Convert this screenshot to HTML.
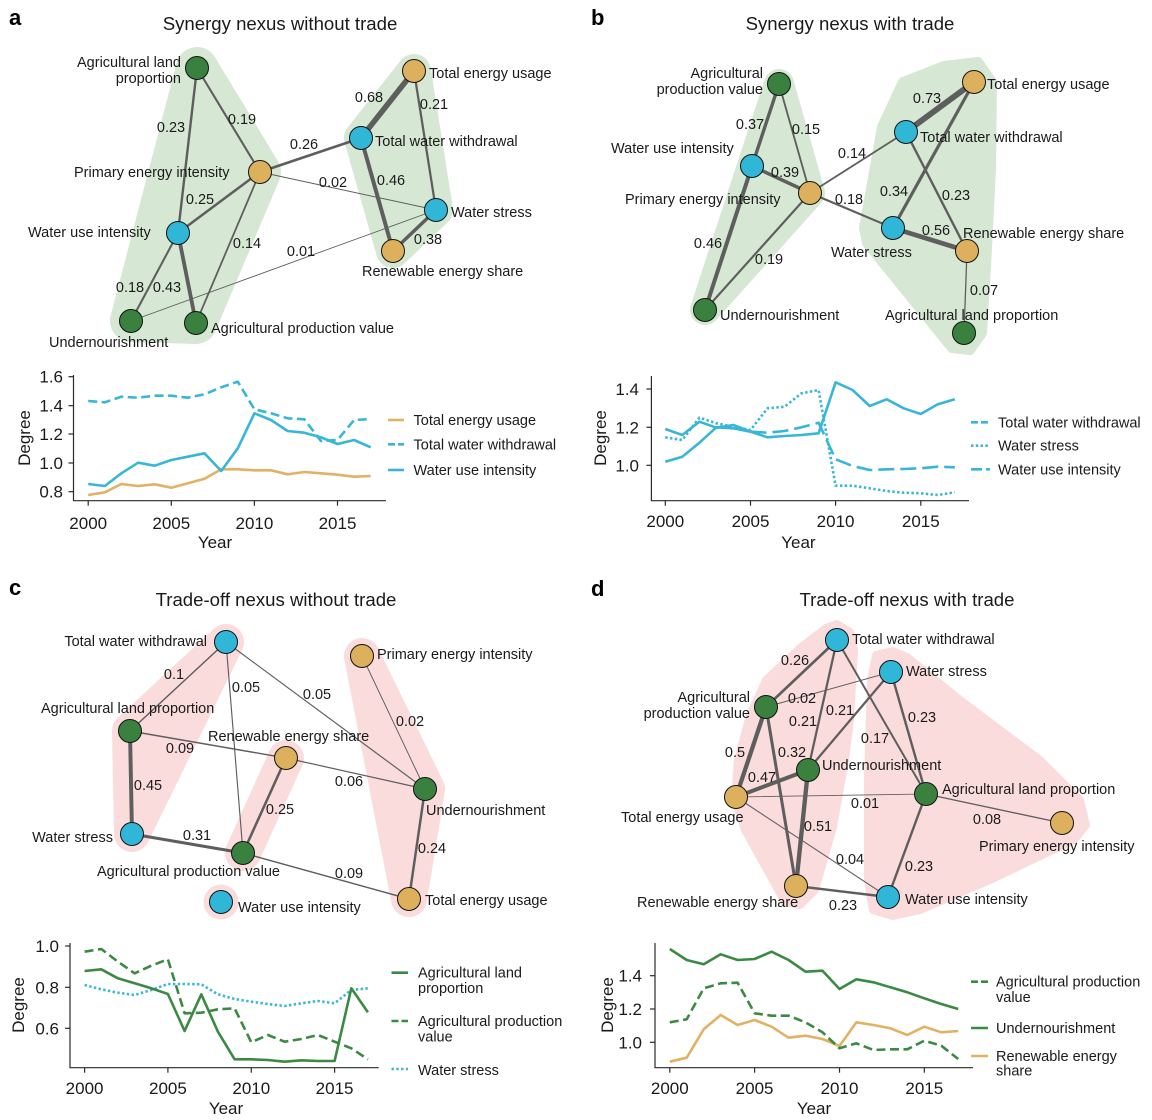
<!DOCTYPE html>
<html><head><meta charset="utf-8"><style>
html,body{margin:0;padding:0;background:#fff;}
svg{display:block;font-family:"Liberation Sans",Arial,sans-serif;}
.nl{font-size:14.5px;fill:#1a1a1a;}
.el{font-size:14.5px;fill:#1a1a1a;text-anchor:middle;}
.tt{font-size:18.6px;fill:#1a1a1a;text-anchor:middle;}
.pl{font-size:22px;font-weight:bold;fill:#000;}
.tk{font-size:17px;fill:#1a1a1a;}
.ax{font-size:17px;fill:#1a1a1a;text-anchor:middle;}
.lg{font-size:14.5px;fill:#1a1a1a;}
.e{stroke:#5e5e5e;stroke-linecap:round;}
.G{fill:#3a8140;stroke:#111;stroke-width:1;}
.O{fill:#dcb05c;stroke:#111;stroke-width:1;}
.B{fill:#30b6d6;stroke:#111;stroke-width:1;}
.hg{fill:#d6e8d4;stroke:#d6e8d4;stroke-linejoin:round;stroke-linecap:round;}
.hp{fill:#fbdcdc;stroke:#fbdcdc;stroke-linejoin:round;stroke-linecap:round;}
.axl{stroke:#2a2a2a;stroke-width:1.2;fill:none;}
.ln{fill:none;stroke-width:2.6;stroke-linejoin:round;}
</style></head><body>
<svg width="1152" height="1120" viewBox="0 0 1152 1120" xmlns="http://www.w3.org/2000/svg">
<rect width="1152" height="1120" fill="#fff"/>

<!-- ================= PANEL A ================= -->
<text class="pl" x="9" y="25">a</text>
<text class="tt" x="280" y="30">Synergy nexus without trade</text>
<polygon class="hg" stroke-width="42" points="197,68 260,172 196,323 131,321"/>
<polygon class="hg" stroke-width="34" points="414,71 436,210 393,251 361,138"/>
<g class="e">
<line x1="197" y1="68" x2="178" y2="233" stroke-width="2.41"/>
<line x1="197" y1="68" x2="260" y2="172" stroke-width="2.13"/>
<line x1="260" y1="172" x2="361" y2="138" stroke-width="2.62"/>
<line x1="260" y1="172" x2="436" y2="210" stroke-width="0.94"/>
<line x1="260" y1="172" x2="178" y2="233" stroke-width="2.55"/>
<line x1="260" y1="172" x2="196" y2="323" stroke-width="1.78"/>
<line x1="178" y1="233" x2="131" y2="321" stroke-width="2.06"/>
<line x1="178" y1="233" x2="196" y2="323" stroke-width="3.81"/>
<line x1="131" y1="321" x2="436" y2="210" stroke-width="0.87"/>
<line x1="414" y1="71" x2="361" y2="138" stroke-width="5.56"/>
<line x1="414" y1="71" x2="436" y2="210" stroke-width="2.27"/>
<line x1="361" y1="138" x2="393" y2="251" stroke-width="4.02"/>
<line x1="436" y1="210" x2="393" y2="251" stroke-width="3.46"/>
</g>
<circle class="G" cx="197" cy="68" r="11.5"/>
<circle class="O" cx="414" cy="71" r="11.5"/>
<circle class="B" cx="361" cy="138" r="11.5"/>
<circle class="O" cx="260" cy="172" r="11.5"/>
<circle class="B" cx="436" cy="210" r="11.5"/>
<circle class="B" cx="178" cy="233" r="11.5"/>
<circle class="O" cx="393" cy="251" r="11.5"/>
<circle class="G" cx="131" cy="321" r="11.5"/>
<circle class="G" cx="196" cy="323" r="11.5"/>
<text class="el" x="171" y="132">0.23</text>
<text class="el" x="242" y="124">0.19</text>
<text class="el" x="304" y="149">0.26</text>
<text class="el" x="333" y="187">0.02</text>
<text class="el" x="200" y="204">0.25</text>
<text class="el" x="247" y="248">0.14</text>
<text class="el" x="130" y="292">0.18</text>
<text class="el" x="167" y="292">0.43</text>
<text class="el" x="301" y="256">0.01</text>
<text class="el" x="369" y="102">0.68</text>
<text class="el" x="434" y="109">0.21</text>
<text class="el" x="391" y="185">0.46</text>
<text class="el" x="428" y="244">0.38</text>
<text class="nl" x="181" y="67" text-anchor="end">Agricultural land</text>
<text class="nl" x="181" y="83" text-anchor="end">proportion</text>
<text class="nl" x="429" y="78">Total energy usage</text>
<text class="nl" x="375" y="146">Total water withdrawal</text>
<text class="nl" x="74" y="177">Primary energy intensity</text>
<text class="nl" x="451" y="217">Water stress</text>
<text class="nl" x="28" y="237">Water use intensity</text>
<text class="nl" x="362" y="276">Renewable energy share</text>
<text class="nl" x="49" y="347">Undernourishment</text>
<text class="nl" x="211" y="333">Agricultural production value</text>

<!-- Chart A -->
<polyline class="axl" points="73.5,375 73.5,500.7 386,500.7"/>
<g class="axl">
<line x1="68.5" y1="376.7" x2="73.5" y2="376.7"/><line x1="68.5" y1="405.7" x2="73.5" y2="405.7"/><line x1="68.5" y1="434" x2="73.5" y2="434"/><line x1="68.5" y1="463" x2="73.5" y2="463"/><line x1="68.5" y1="491.7" x2="73.5" y2="491.7"/>
<line x1="88.2" y1="500.7" x2="88.2" y2="505.7"/><line x1="171.3" y1="500.7" x2="171.3" y2="505.7"/><line x1="254.4" y1="500.7" x2="254.4" y2="505.7"/><line x1="337.5" y1="500.7" x2="337.5" y2="505.7"/>
</g>
<g class="tk" text-anchor="end">
<text x="63" y="382.7">1.6</text><text x="63" y="411.7">1.4</text><text x="63" y="440">1.2</text><text x="63" y="469">1.0</text><text x="63" y="497.7">0.8</text>
</g>
<g class="tk" text-anchor="middle">
<text x="88.2" y="529">2000</text><text x="171.3" y="529">2005</text><text x="254.4" y="529">2010</text><text x="337.5" y="529">2015</text>
</g>
<text class="ax" x="215" y="548">Year</text>
<text class="ax" x="0" y="0" transform="translate(30,438) rotate(-90)">Degree</text>
<polyline class="ln" stroke="#e2b264" points="88.2,495 104.8,492.3 121.4,484 138.1,486 154.7,484.3 171.3,487.7 187.9,483.3 204.5,478.7 221.2,469.3 237.8,469.3 254.4,470.3 271,470.3 287.6,474.3 304.3,472 320.9,473.3 337.5,474.7 354.1,476.7 370.7,476"/>
<polyline class="ln" stroke="#38b6d8" points="88.2,484 104.8,486 121.4,473.3 138.1,462.7 154.7,465.7 171.3,460 187.9,456.7 204.5,453.3 221.2,471 237.8,448.3 254.4,413.3 271,420 287.6,431 304.3,432.7 320.9,437.3 337.5,444 354.1,440 370.7,447.3"/>
<polyline class="ln" stroke="#38b6d8" stroke-dasharray="9 4.5" points="88.2,401 104.8,402.3 121.4,396.7 138.1,397.7 154.7,395.7 171.3,395.7 187.9,397.7 204.5,394.3 221.2,387.3 237.8,381.7 254.4,409.3 271,413.3 287.6,418.3 304.3,419.3 320.9,441 337.5,440 354.1,420 370.7,419"/>
<line x1="388" y1="420" x2="404" y2="420" stroke="#e2b264" stroke-width="2.6"/>
<line x1="388" y1="444.3" x2="404" y2="444.3" stroke="#38b6d8" stroke-width="2.6" stroke-dasharray="7 3"/>
<line x1="388" y1="470" x2="404" y2="470" stroke="#38b6d8" stroke-width="2.6"/>
<text class="lg" x="413.5" y="425">Total energy usage</text>
<text class="lg" x="413.5" y="449.3">Total water withdrawal</text>
<text class="lg" x="413.5" y="475">Water use intensity</text>

<!-- ================= PANEL B ================= -->
<text class="pl" x="591" y="25">b</text>
<text class="tt" x="850" y="30">Synergy nexus with trade</text>
<polygon class="hg" stroke-width="30" points="779,84 810,193 705,310 752,166"/>
<polygon class="hg" stroke-width="10" points="944,66 978,62 992,82 991,170 986,267 982,333 970,350 952,348 867,243 864,228 882,127 903,82"/>
<g class="e">
<line x1="779" y1="84" x2="752" y2="166" stroke-width="3.39"/>
<line x1="779" y1="84" x2="810" y2="193" stroke-width="1.85"/>
<line x1="752" y1="166" x2="810" y2="193" stroke-width="3.53"/>
<line x1="752" y1="166" x2="705" y2="310" stroke-width="4.02"/>
<line x1="810" y1="193" x2="705" y2="310" stroke-width="2.13"/>
<line x1="810" y1="193" x2="906" y2="132" stroke-width="1.78"/>
<line x1="810" y1="193" x2="893" y2="228" stroke-width="2.06"/>
<line x1="974" y1="82" x2="906" y2="132" stroke-width="5.91"/>
<line x1="974" y1="82" x2="893" y2="228" stroke-width="3.18"/>
<line x1="906" y1="132" x2="967" y2="251" stroke-width="2.41"/>
<line x1="893" y1="228" x2="967" y2="251" stroke-width="4.72"/>
<line x1="967" y1="251" x2="964" y2="333" stroke-width="1.29"/>
</g>
<circle class="G" cx="779" cy="84" r="11.5"/>
<circle class="O" cx="974" cy="82" r="11.5"/>
<circle class="B" cx="906" cy="132" r="11.5"/>
<circle class="B" cx="752" cy="166" r="11.5"/>
<circle class="O" cx="810" cy="193" r="11.5"/>
<circle class="B" cx="893" cy="228" r="11.5"/>
<circle class="O" cx="967" cy="251" r="11.5"/>
<circle class="G" cx="705" cy="310" r="11.5"/>
<circle class="G" cx="964" cy="333" r="11.5"/>
<text class="el" x="750" y="129">0.37</text>
<text class="el" x="806" y="134">0.15</text>
<text class="el" x="785" y="177">0.39</text>
<text class="el" x="708" y="248">0.46</text>
<text class="el" x="769" y="264">0.19</text>
<text class="el" x="852" y="158">0.14</text>
<text class="el" x="849" y="204">0.18</text>
<text class="el" x="927" y="103">0.73</text>
<text class="el" x="894" y="196">0.34</text>
<text class="el" x="956" y="200">0.23</text>
<text class="el" x="936" y="235">0.56</text>
<text class="el" x="984" y="295">0.07</text>
<text class="nl" x="763" y="78" text-anchor="end">Agricultural</text>
<text class="nl" x="763" y="94" text-anchor="end">production value</text>
<text class="nl" x="987" y="89">Total energy usage</text>
<text class="nl" x="920" y="142">Total water withdrawal</text>
<text class="nl" x="611" y="153">Water use intensity</text>
<text class="nl" x="625" y="204">Primary energy intensity</text>
<text class="nl" x="831" y="257">Water stress</text>
<text class="nl" x="963" y="238">Renewable energy share</text>
<text class="nl" x="720" y="320">Undernourishment</text>
<text class="nl" x="885" y="320">Agricultural land proportion</text>

<!-- Chart B -->
<polyline class="axl" points="651.4,376 651.4,500.7 969,500.7"/>
<g class="axl">
<line x1="646.4" y1="389" x2="651.4" y2="389"/><line x1="646.4" y1="427.3" x2="651.4" y2="427.3"/><line x1="646.4" y1="465.3" x2="651.4" y2="465.3"/>
<line x1="665.3" y1="500.7" x2="665.3" y2="505.7"/><line x1="750.5" y1="500.7" x2="750.5" y2="505.7"/><line x1="835.6" y1="500.7" x2="835.6" y2="505.7"/><line x1="920.8" y1="500.7" x2="920.8" y2="505.7"/>
</g>
<g class="tk" text-anchor="end">
<text x="639" y="395">1.4</text><text x="639" y="433.3">1.2</text><text x="639" y="471.3">1.0</text>
</g>
<g class="tk" text-anchor="middle">
<text x="665.3" y="527">2000</text><text x="750.5" y="527">2005</text><text x="835.6" y="527">2010</text><text x="920.8" y="527">2015</text>
</g>
<text class="ax" x="798.4" y="548">Year</text>
<text class="ax" x="0" y="0" transform="translate(606,438) rotate(-90)">Degree</text>
<polyline class="ln" stroke="#38b6d8" points="665.3,461.7 682.3,456.7 699.4,442.7 716.4,427.3 733.4,428.3 750.5,431.7 767.5,437.3 784.5,436 801.5,435 818.6,433.3 835.6,382.3 852.6,390 869.7,406 886.7,399.3 903.7,408.3 920.8,414 937.8,404.3 954.8,399.3"/>
<polyline class="ln" stroke="#38b6d8" points="665.3,429 682.3,435 699.4,421.7 716.4,427.7 733.4,425 750.5,431.7"/>
<polyline class="ln" stroke="#38b6d8" stroke-dasharray="16 6" points="750.5,431.7 767.5,432.7 784.5,431 801.5,427.3 818.6,422.7 835.6,459.3 852.6,466 869.7,470 886.7,469.3 903.7,469 920.8,468.3 937.8,466.7 954.8,467.3"/>
<polyline class="ln" stroke="#38b6d8" stroke-dasharray="2.4 2.4" points="665.3,437.3 682.3,440 699.4,417.7 716.4,423.3 733.4,426.7 750.5,430 767.5,408.3 784.5,406.7 801.5,393.3 818.6,390 835.6,485.7 852.6,485.7 869.7,488.3 886.7,491 903.7,492.7 920.8,493.3 937.8,495 954.8,492.3"/>
<line x1="971" y1="422.3" x2="990" y2="422.3" stroke="#38b6d8" stroke-width="2.6" stroke-dasharray="7 3"/>
<line x1="971" y1="445.7" x2="990" y2="445.7" stroke="#38b6d8" stroke-width="2.6" stroke-dasharray="2.4 2.4"/>
<line x1="971" y1="469.3" x2="990" y2="469.3" stroke="#38b6d8" stroke-width="2.6" stroke-dasharray="11 4"/>
<text class="lg" x="998" y="427.3">Total water withdrawal</text>
<text class="lg" x="998" y="450.7">Water stress</text>
<text class="lg" x="998" y="474.3">Water use intensity</text>

<!-- ================= PANEL C ================= -->
<text class="pl" x="9" y="595">c</text>
<text class="tt" x="276" y="606">Trade-off nexus without trade</text>
<polygon class="hp" stroke-width="36" points="226,642 132,834 130,731"/>
<polyline class="hp" stroke-width="36" points="286,758 243,853"/>
<circle cx="221" cy="902" r="17.5" fill="#fbdcdc"/>
<polygon class="hp" stroke-width="36" points="362,656 427,789 409,899"/>
<g class="e">
<line x1="226" y1="642" x2="130" y2="731" stroke-width="1.5"/>
<line x1="226" y1="642" x2="243" y2="853" stroke-width="1.15"/>
<line x1="226" y1="642" x2="425" y2="789" stroke-width="1.15"/>
<line x1="362" y1="656" x2="425" y2="789" stroke-width="0.94"/>
<line x1="130" y1="731" x2="286" y2="758" stroke-width="1.43"/>
<line x1="286" y1="758" x2="425" y2="789" stroke-width="1.22"/>
<line x1="130" y1="731" x2="132" y2="834" stroke-width="3.95"/>
<line x1="286" y1="758" x2="243" y2="853" stroke-width="2.55"/>
<line x1="132" y1="834" x2="243" y2="853" stroke-width="2.97"/>
<line x1="425" y1="789" x2="409" y2="899" stroke-width="2.48"/>
<line x1="243" y1="853" x2="409" y2="899" stroke-width="1.43"/>
</g>
<circle class="B" cx="226" cy="642" r="11.5"/>
<circle class="O" cx="362" cy="656" r="11.5"/>
<circle class="G" cx="130" cy="731" r="11.5"/>
<circle class="O" cx="286" cy="758" r="11.5"/>
<circle class="G" cx="425" cy="789" r="11.5"/>
<circle class="B" cx="132" cy="834" r="11.5"/>
<circle class="G" cx="243" cy="853" r="11.5"/>
<circle class="B" cx="221" cy="902" r="11.5"/>
<circle class="O" cx="409" cy="899" r="11.5"/>
<text class="el" x="174" y="679">0.1</text>
<text class="el" x="246" y="692">0.05</text>
<text class="el" x="317" y="699">0.05</text>
<text class="el" x="410" y="726">0.02</text>
<text class="el" x="180" y="753">0.09</text>
<text class="el" x="349" y="786">0.06</text>
<text class="el" x="148" y="790">0.45</text>
<text class="el" x="280" y="814">0.25</text>
<text class="el" x="197" y="840">0.31</text>
<text class="el" x="432" y="853">0.24</text>
<text class="el" x="349" y="878">0.09</text>
<text class="nl" x="207" y="646" text-anchor="end">Total water withdrawal</text>
<text class="nl" x="377" y="659">Primary energy intensity</text>
<text class="nl" x="41" y="713">Agricultural land proportion</text>
<text class="nl" x="208" y="741">Renewable energy share</text>
<text class="nl" x="426" y="815">Undernourishment</text>
<text class="nl" x="113" y="842" text-anchor="end">Water stress</text>
<text class="nl" x="97" y="876">Agricultural production value</text>
<text class="nl" x="238" y="912">Water use intensity</text>
<text class="nl" x="425" y="905">Total energy usage</text>

<!-- Chart C -->
<polyline class="axl" points="70,943 70,1067.7 378.7,1067.7"/>
<g class="axl">
<line x1="65" y1="946" x2="70" y2="946"/><line x1="65" y1="987.3" x2="70" y2="987.3"/><line x1="65" y1="1028.3" x2="70" y2="1028.3"/>
<line x1="84.6" y1="1067.7" x2="84.6" y2="1072.7"/><line x1="167.9" y1="1067.7" x2="167.9" y2="1072.7"/><line x1="251.3" y1="1067.7" x2="251.3" y2="1072.7"/><line x1="334.6" y1="1067.7" x2="334.6" y2="1072.7"/>
</g>
<g class="tk" text-anchor="end">
<text x="59" y="952">1.0</text><text x="59" y="993.3">0.8</text><text x="59" y="1034.3">0.6</text>
</g>
<g class="tk" text-anchor="middle">
<text x="84.6" y="1094">2000</text><text x="167.9" y="1094">2005</text><text x="251.3" y="1094">2010</text><text x="334.6" y="1094">2015</text>
</g>
<text class="ax" x="226" y="1114">Year</text>
<text class="ax" x="0" y="0" transform="translate(24,1005) rotate(-90)">Degree</text>
<polyline class="ln" stroke="#38b6d8" stroke-dasharray="2.4 2.4" points="84.6,985 101.3,989.3 117.9,992.7 134.6,995 151.3,990 167.9,984 184.6,984 201.3,984.3 217.9,994.3 234.6,999 251.3,1001.7 267.9,1004 284.6,1006 301.3,1003.3 317.9,1001 334.6,1003.3 351.3,990 367.9,988.3"/>
<polyline class="ln" stroke="#3b8a43" stroke-dasharray="9 4.5" points="84.6,951.7 101.3,949 117.9,961.7 134.6,973.3 151.3,965.7 167.9,959.3 184.6,1013.3 201.3,1012.7 217.9,1009.3 234.6,1008.3 251.3,1042.3 267.9,1035 284.6,1041.7 301.3,1039 317.9,1035 334.6,1041.7 351.3,1048.3 367.9,1059.3"/>
<polyline class="ln" stroke="#3b8a43" points="84.6,971 101.3,969.3 117.9,978.3 134.6,983.3 151.3,988.3 167.9,994 184.6,1031 201.3,994.3 217.9,1031.7 234.6,1059.3 251.3,1059.3 267.9,1060 284.6,1061.7 301.3,1060.3 317.9,1061 334.6,1061 351.3,988.3 367.9,1012.3"/>
<line x1="391.5" y1="972.7" x2="408" y2="972.7" stroke="#3b8a43" stroke-width="2.6"/>
<line x1="391.5" y1="1021" x2="408" y2="1021" stroke="#3b8a43" stroke-width="2.6" stroke-dasharray="7 3"/>
<line x1="391.5" y1="1069" x2="408" y2="1069" stroke="#38b6d8" stroke-width="2.6" stroke-dasharray="2.4 2.4"/>
<text class="lg" x="418" y="977.7">Agricultural land</text>
<text class="lg" x="418" y="993">proportion</text>
<text class="lg" x="418" y="1026">Agricultural production</text>
<text class="lg" x="418" y="1041.7">value</text>
<text class="lg" x="418" y="1075">Water stress</text>

<!-- ================= PANEL D ================= -->
<text class="pl" x="591" y="596">d</text>
<text class="tt" x="907" y="606">Trade-off nexus with trade</text>
<polygon class="hp" stroke-width="8" points="826,628 837,624 850,632 854,650 850,720 845,760 833,827 815,890 800,905 785,902 765,866 745,830 735,800 738,760 750,715 766,680 800,648"/>
<polygon class="hp" stroke-width="8" points="876,655 893,651 907,657 960,700 1040,760 1080,800 1086,825 1074,840 990,880 920,910 893,916 873,910 868,880 868,780 871,680"/>
<g class="e">
<line x1="837" y1="640" x2="766" y2="707" stroke-width="2.62"/>
<line x1="891" y1="672" x2="766" y2="707" stroke-width="0.94"/>
<line x1="837" y1="640" x2="808" y2="770" stroke-width="2.27"/>
<line x1="891" y1="672" x2="808" y2="770" stroke-width="2.27"/>
<line x1="837" y1="640" x2="926" y2="794" stroke-width="1.99"/>
<line x1="891" y1="672" x2="926" y2="794" stroke-width="2.41"/>
<line x1="766" y1="707" x2="736" y2="797" stroke-width="4.3"/>
<line x1="766" y1="707" x2="796" y2="886" stroke-width="3.04"/>
<line x1="736" y1="797" x2="808" y2="770" stroke-width="4.09"/>
<line x1="736" y1="797" x2="926" y2="794" stroke-width="0.87"/>
<line x1="808" y1="770" x2="796" y2="886" stroke-width="4.37"/>
<line x1="736" y1="797" x2="888" y2="897" stroke-width="1.08"/>
<line x1="926" y1="794" x2="1062" y2="823" stroke-width="1.36"/>
<line x1="926" y1="794" x2="888" y2="897" stroke-width="2.41"/>
<line x1="796" y1="886" x2="888" y2="897" stroke-width="2.41"/>
</g>
<circle class="B" cx="837" cy="640" r="11.5"/>
<circle class="B" cx="891" cy="672" r="11.5"/>
<circle class="G" cx="766" cy="707" r="11.5"/>
<circle class="G" cx="808" cy="770" r="11.5"/>
<circle class="O" cx="736" cy="797" r="11.5"/>
<circle class="G" cx="926" cy="794" r="11.5"/>
<circle class="O" cx="1062" cy="823" r="11.5"/>
<circle class="O" cx="796" cy="886" r="11.5"/>
<circle class="B" cx="888" cy="897" r="11.5"/>
<text class="el" x="795" y="665">0.26</text>
<text class="el" x="802" y="703">0.02</text>
<text class="el" x="803" y="726">0.21</text>
<text class="el" x="840" y="715">0.21</text>
<text class="el" x="875" y="743">0.17</text>
<text class="el" x="922" y="722">0.23</text>
<text class="el" x="735" y="757">0.5</text>
<text class="el" x="792" y="757">0.32</text>
<text class="el" x="762" y="782">0.47</text>
<text class="el" x="865" y="808">0.01</text>
<text class="el" x="818" y="831">0.51</text>
<text class="el" x="850" y="864">0.04</text>
<text class="el" x="987" y="824">0.08</text>
<text class="el" x="919" y="871">0.23</text>
<text class="el" x="843" y="910">0.23</text>
<text class="nl" x="852" y="644">Total water withdrawal</text>
<text class="nl" x="906" y="676">Water stress</text>
<text class="nl" x="750" y="702" text-anchor="end">Agricultural</text>
<text class="nl" x="750" y="718" text-anchor="end">production value</text>
<text class="nl" x="822" y="770">Undernourishment</text>
<text class="nl" x="942" y="794">Agricultural land proportion</text>
<text class="nl" x="621" y="822">Total energy usage</text>
<text class="nl" x="979" y="851">Primary energy intensity</text>
<text class="nl" x="637" y="907">Renewable energy share</text>
<text class="nl" x="905" y="904">Water use intensity</text>

<!-- Chart D -->
<polyline class="axl" points="655,943 655,1067.7 973,1067.7"/>
<g class="axl">
<line x1="650" y1="975.7" x2="655" y2="975.7"/><line x1="650" y1="1009" x2="655" y2="1009"/><line x1="650" y1="1042.3" x2="655" y2="1042.3"/>
<line x1="669.8" y1="1067.7" x2="669.8" y2="1072.7"/><line x1="754.6" y1="1067.7" x2="754.6" y2="1072.7"/><line x1="839.5" y1="1067.7" x2="839.5" y2="1072.7"/><line x1="924.3" y1="1067.7" x2="924.3" y2="1072.7"/>
</g>
<g class="tk" text-anchor="end">
<text x="642" y="981.7">1.4</text><text x="642" y="1015">1.2</text><text x="642" y="1048.3">1.0</text>
</g>
<g class="tk" text-anchor="middle">
<text x="669.8" y="1094">2000</text><text x="754.6" y="1094">2005</text><text x="839.5" y="1094">2010</text><text x="924.3" y="1094">2015</text>
</g>
<text class="ax" x="814" y="1114">Year</text>
<text class="ax" x="0" y="0" transform="translate(613,1005) rotate(-90)">Degree</text>
<polyline class="ln" stroke="#e2b264" points="669.8,1061.7 686.7,1057.7 703.7,1029.3 720.7,1015 737.6,1025 754.6,1020 771.6,1026.7 788.6,1037.7 805.5,1035.7 822.5,1039 839.5,1046 856.4,1022.3 873.4,1025 890.4,1028.3 907.3,1035 924.3,1026.7 941.3,1032.3 958.2,1031"/>
<polyline class="ln" stroke="#3b8a43" stroke-dasharray="9 4.5" points="669.8,1022.3 686.7,1019.3 703.7,988.3 720.7,983.3 737.6,982.7 754.6,1013.3 771.6,1015.7 788.6,1015.7 805.5,1022.3 822.5,1032.3 839.5,1048.3 856.4,1043.3 873.4,1050 890.4,1049.3 907.3,1049.3 924.3,1040.7 941.3,1045.7 958.2,1059"/>
<polyline class="ln" stroke="#3b8a43" points="669.8,949 686.7,960 703.7,964.3 720.7,954.3 737.6,960 754.6,959 771.6,951.7 788.6,960 805.5,971.7 822.5,970.7 839.5,989 856.4,979.3 873.4,982.3 890.4,987.3 907.3,992.3 924.3,998.3 941.3,1004 958.2,1009"/>
<line x1="971" y1="981.7" x2="988" y2="981.7" stroke="#3b8a43" stroke-width="2.6" stroke-dasharray="7 3"/>
<line x1="971" y1="1028" x2="988" y2="1028" stroke="#3b8a43" stroke-width="2.6"/>
<line x1="971" y1="1056" x2="988" y2="1056" stroke="#e2b264" stroke-width="2.6"/>
<text class="lg" x="996" y="986.7">Agricultural production</text>
<text class="lg" x="996" y="1002">value</text>
<text class="lg" x="996" y="1033">Undernourishment</text>
<text class="lg" x="996" y="1061">Renewable energy</text>
<text class="lg" x="996" y="1075.7">share</text>
</svg>
</body></html>
